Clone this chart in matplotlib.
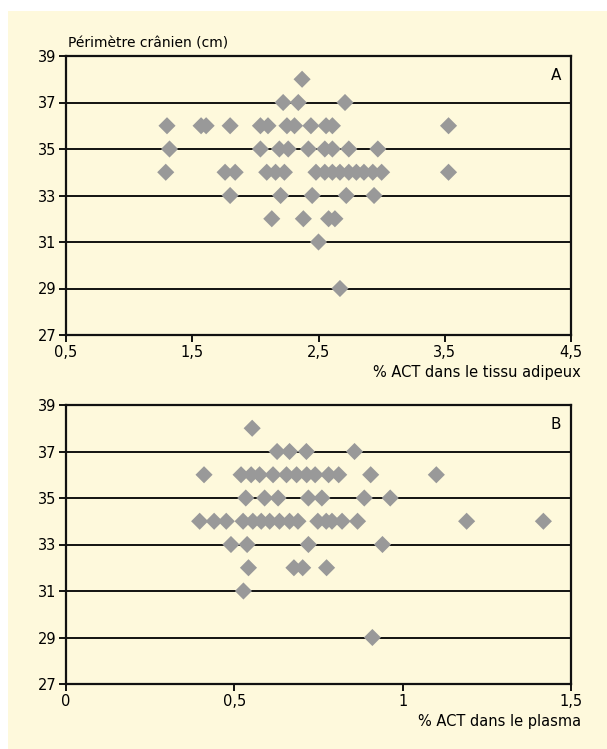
import matplotlib
matplotlib.use('Agg')
import matplotlib.pyplot as plt
from matplotlib.patches import Rectangle

plt.rcParams['font.family'] = ['Liberation Sans Narrow', 'DejaVu Sans']

# panel A : % ACT dans le tissu adipeux
a_x = [2.37,
       2.22, 2.34, 2.71,
       1.30, 1.57, 1.61, 1.80, 2.04, 2.10, 2.25, 2.31, 2.44, 2.56, 2.61, 3.53,
       1.32, 2.04, 2.19, 2.26, 2.42, 2.55, 2.61, 2.74, 2.97,
       1.29, 1.76, 1.84, 2.09, 2.16, 2.23, 2.48, 2.55, 2.61, 2.67, 2.74, 2.80, 2.86, 2.93, 3.00, 3.53,
       1.80, 2.20, 2.45, 2.72, 2.94,
       2.13, 2.38, 2.58, 2.63,
       2.50,
       2.67]
a_y = [38,
       37, 37, 37,
       36, 36, 36, 36, 36, 36, 36, 36, 36, 36, 36, 36,
       35, 35, 35, 35, 35, 35, 35, 35, 35,
       34, 34, 34, 34, 34, 34, 34, 34, 34, 34, 34, 34, 34, 34, 34, 34,
       33, 33, 33, 33, 33,
       32, 32, 32, 32,
       31,
       29]

# panel B : % ACT dans le plasma
b_x = [0.553,
       0.627, 0.664, 0.714, 0.857,
       0.41, 0.52, 0.55, 0.575, 0.615, 0.655, 0.685, 0.715, 0.74, 0.78, 0.81, 0.905, 1.10,
       0.534, 0.59, 0.63, 0.72, 0.76, 0.886, 0.963,
       0.397, 0.44, 0.476, 0.526, 0.555, 0.58, 0.605, 0.634, 0.664, 0.689, 0.748, 0.773, 0.79, 0.82, 0.866, 1.19, 1.418,
       0.49, 0.538, 0.72, 0.94,
       0.542, 0.677, 0.703, 0.774,
       0.527,
       0.91]
b_y = [38,
       37, 37, 37, 37,
       36, 36, 36, 36, 36, 36, 36, 36, 36, 36, 36, 36, 36,
       35, 35, 35, 35, 35, 35, 35,
       34, 34, 34, 34, 34, 34, 34, 34, 34, 34, 34, 34, 34, 34, 34, 34, 34,
       33, 33, 33, 33,
       32, 32, 32, 32,
       31,
       29]

y_ticks = [27, 29, 31, 33, 35, 37, 39]
a_ticks = [0.5, 1.5, 2.5, 3.5, 4.5]
a_labels = ['0,5', '1,5', '2,5', '3,5', '4,5']
b_ticks = [0, 0.5, 1, 1.5]
b_labels = ['0', '0,5', '1', '1,5']

bg = '#fef9dc'
grey = '#999999'

fig = plt.figure(figsize=(6.07, 7.49), dpi=100, facecolor='white')
fig.patches.append(Rectangle((8 / 607, 0), 1, 1 - 11 / 749, transform=fig.transFigure,
                             facecolor=bg, edgecolor='none', zorder=-10))


def panel(rect, x, y, xticks, xlabels, xlim, xlabel, letter):
    ax = fig.add_axes(rect)
    ax.set_facecolor(bg)
    ax.scatter(x, y, marker='D', s=76, color=grey, edgecolors='none', zorder=3)
    ax.set_xlim(*xlim)
    ax.set_ylim(27, 39)
    ax.set_yticks(y_ticks)
    ax.set_xticks(xticks)
    ax.set_xticklabels(xlabels)
    for v in y_ticks[1:-1]:
        ax.axhline(v, color='black', lw=1.3, zorder=2)
    for s in ax.spines.values():
        s.set_linewidth(1.6)
        s.set_color('#111111')
    ax.tick_params(direction='out', length=5, width=1.3, labelsize=10.5, pad=2)
    ax.text(0.97, 0.93, letter, transform=ax.transAxes, fontsize=11, ha='center', va='center')
    ax.text(1.02, -0.135, xlabel, transform=ax.transAxes, fontsize=10.5, ha='right', va='center')
    return ax


axA = panel([66 / 607, 1 - 335 / 749, 505 / 607, 279 / 749], a_x, a_y, a_ticks, a_labels,
            (0.5, 4.5), '% ACT dans le tissu adipeux', 'A')
axA.text(0.003, 1.045, 'Périmètre crânien (cm)', transform=axA.transAxes, fontsize=10,
         ha='left', va='center')

axB = panel([66 / 607, 1 - 684 / 749, 505 / 607, 279 / 749], b_x, b_y, b_ticks, b_labels,
            (0, 1.5), '% ACT dans le plasma', 'B')

plt.savefig('out.png', dpi=100, facecolor='white')
